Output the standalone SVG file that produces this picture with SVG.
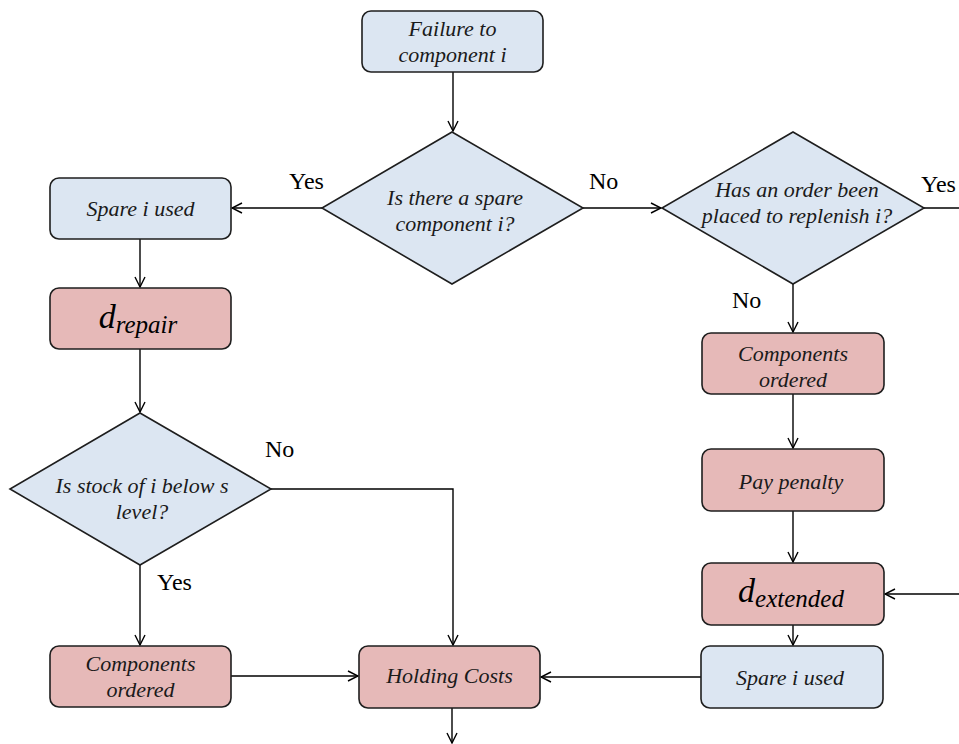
<svg xmlns="http://www.w3.org/2000/svg" width="959" height="744" viewBox="0 0 959 744">
  <defs>
    <marker id="arr" viewBox="0 0 12 12" refX="11" refY="6" markerWidth="12" markerHeight="12" markerUnits="userSpaceOnUse" orient="auto">
      <path d="M1,1 L11,6 L1,11" fill="none" stroke="#000" stroke-width="1.4"/>
    </marker>
    <style>
      .blue { fill: #dce6f2; stroke: #1e1e1e; stroke-width: 1.6; }
      .red { fill: #e6b9b8; stroke: #1e1e1e; stroke-width: 1.6; }
      .t { font-family: "Liberation Serif", "Times New Roman", serif; font-style: italic; font-size: 22px; fill: #1a1a1a; text-anchor: middle; }
      .lbl { font-family: "Liberation Serif", "Times New Roman", serif; font-size: 24px; fill: #000; }
      .m { font-family: "Liberation Serif", "Times New Roman", serif; font-style: italic; fill: #000; text-anchor: middle; }
      .c { fill: none; stroke: #000; stroke-width: 1.4; }
    </style>
  </defs>

  <g id="connectors">
    <path class="c" d="M453,72 V131" marker-end="url(#arr)"/>
    <path class="c" d="M322,208 H232" marker-end="url(#arr)"/>
    <path class="c" d="M140,239 V287" marker-end="url(#arr)"/>
    <path class="c" d="M140,349 V412" marker-end="url(#arr)"/>
    <path class="c" d="M271,489 H453 V645" marker-end="url(#arr)"/>
    <path class="c" d="M140,565 V645" marker-end="url(#arr)"/>
    <path class="c" d="M231,676 H358" marker-end="url(#arr)"/>
    <path class="c" d="M452,708 V743" marker-end="url(#arr)"/>
    <path class="c" d="M583,208 H661" marker-end="url(#arr)"/>
    <path class="c" d="M924,208 H959"/>
    <path class="c" d="M793,284 V332" marker-end="url(#arr)"/>
    <path class="c" d="M793,394 V448" marker-end="url(#arr)"/>
    <path class="c" d="M793,511 V562" marker-end="url(#arr)"/>
    <path class="c" d="M959,594 H885" marker-end="url(#arr)"/>
    <path class="c" d="M793,625 V645" marker-end="url(#arr)"/>
    <path class="c" d="M701,677 H541" marker-end="url(#arr)"/>
    <text class="lbl" x="289" y="189">Yes</text>
    <text class="lbl" x="589" y="189">No</text>
    <text class="lbl" x="921" y="192">Yes</text>
    <text class="lbl" x="732" y="308">No</text>
    <text class="lbl" x="265" y="457">No</text>
    <text class="lbl" x="157" y="590">Yes</text>
  </g>

  <g id="failure">
    <rect class="blue" x="362" y="11" width="181" height="61" rx="9"/>
    <text class="t" x="452.5" y="36">Failure to</text>
    <text class="t" x="452.5" y="62">component i</text>
  </g>

  <g id="spare-decision">
    <polygon class="blue" points="452,132 583,208 452,284 322,208"/>
    <text class="t" x="455" y="205">Is there a spare</text>
    <text class="t" x="455" y="231">component i?</text>
  </g>

  <g id="spare-used-left">
    <rect class="blue" x="50" y="178" width="181" height="61" rx="9"/>
    <text class="t" x="140.5" y="216">Spare i used</text>
  </g>

  <g id="d-repair">
    <rect class="red" x="50" y="288" width="181" height="61" rx="9"/>
    <text class="m" x="138" y="328"><tspan font-size="34">d</tspan><tspan font-size="25" dy="5">repair</tspan></text>
  </g>

  <g id="stock-decision">
    <polygon class="blue" points="140,413 271,489 140,565 10,489"/>
    <text class="t" x="142" y="493">Is stock of i below s</text>
    <text class="t" x="142" y="519">level?</text>
  </g>

  <g id="components-ordered-left">
    <rect class="red" x="50" y="646" width="181" height="61" rx="9"/>
    <text class="t" x="140.5" y="671">Components</text>
    <text class="t" x="140.5" y="697">ordered</text>
  </g>

  <g id="holding-costs">
    <rect class="red" x="359" y="646" width="181" height="62" rx="9"/>
    <text class="t" x="449.5" y="683">Holding Costs</text>
  </g>

  <g id="order-decision">
    <polygon class="blue" points="793,132 924,208 793,284 662,208"/>
    <text class="t" x="797" y="197">Has an order been</text>
    <text class="t" x="797" y="223">placed to replenish i?</text>
  </g>

  <g id="components-ordered-right">
    <rect class="red" x="702" y="333" width="182" height="61" rx="9"/>
    <text class="t" x="793" y="361">Components</text>
    <text class="t" x="793" y="387">ordered</text>
  </g>

  <g id="pay-penalty">
    <rect class="red" x="702" y="449" width="182" height="62" rx="9"/>
    <text class="t" x="791" y="489">Pay penalty</text>
  </g>

  <g id="d-extended">
    <rect class="red" x="702" y="563" width="182" height="62" rx="9"/>
    <text class="m" x="791" y="602"><tspan font-size="34">d</tspan><tspan font-size="25" dy="5">extended</tspan></text>
  </g>

  <g id="spare-used-right">
    <rect class="blue" x="701" y="646" width="182" height="62" rx="9"/>
    <text class="t" x="790" y="685">Spare i used</text>
  </g>
</svg>
